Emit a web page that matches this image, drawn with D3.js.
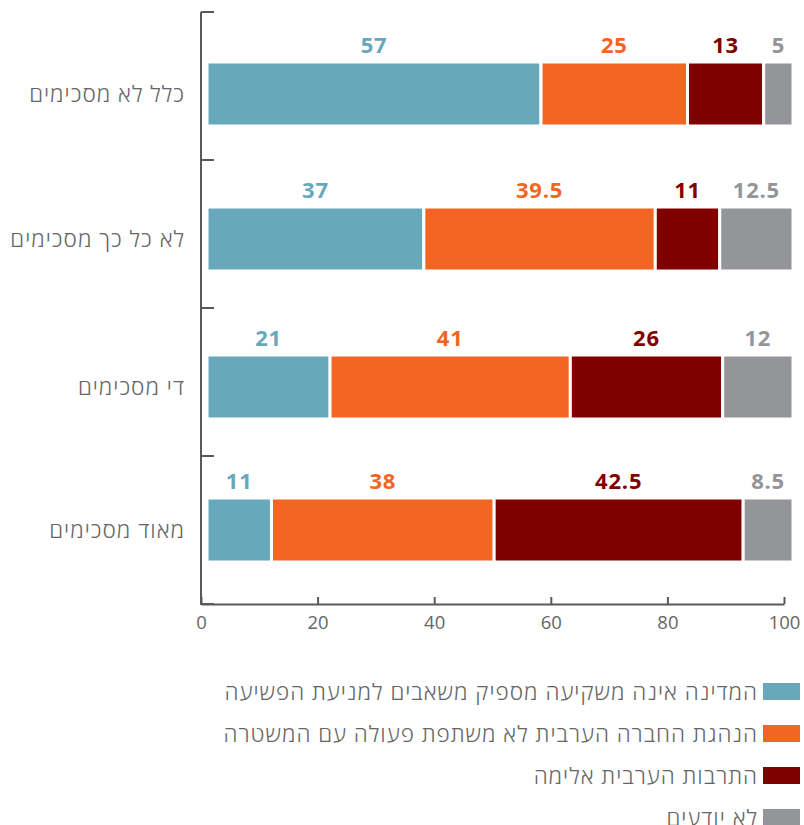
<!DOCTYPE html>
<html><head><meta charset="utf-8">
<script src="https://cdn.jsdelivr.net/npm/d3@7"></script>
<style>body{margin:0;background:#fff;font-family:"Open Sans",sans-serif}</style>
</head><body><svg id="c" width="804" height="825"></svg>
<script>
const categories = ["כלל לא מסכימים","לא כל כך מסכימים","די מסכימים","מאוד מסכימים"];
const seriesNames = ["המדינה אינה משקיעה מספיק משאבים למניעת הפשיעה","הנהגת החברה הערבית לא משתפת פעולה עם המשטרה","התרבות הערבית אלימה","לא יודעים"];
const colors = ["#67A9BA","#F26522","#800000","#939598"];
const s1 = [57,37,21,11];
const s2 = [25,39.5,41,38];
const s3 = [13,11,26,42.5];
const s4 = [5,12.5,12,8.5];
const xTicks = [0,20,40,60,80,100];

const series = [s1,s2,s3,s4];
const hebFont = "Open Sans";
const hebSize = 22.5;
const hebLS = 1;
const svg = d3.select("#c");
const x = d3.scaleLinear().domain([0,100]).range([201,784]);
const xb = d3.scaleLinear().domain([0,100]).range([207,793]);
const y = d3.scaleBand().domain(categories).range([12,604]);

// axes
svg.append("g").attr("transform","translate(0,604)")
  .call(d3.axisBottom(x).tickValues(xTicks).tickSizeOuter(0).tickSizeInner(-7).tickPadding(12))
  .call(g=>{g.select(".domain").attr("stroke","#595959").attr("stroke-width",2);
    g.selectAll(".tick line").attr("stroke","#595959").attr("stroke-width",2);
    g.selectAll("text").attr("fill","#666").attr("font-size",18.5).attr("font-family","Open Sans");});

const yTickVals = [12, ...categories.map(c=>y(c)+y.bandwidth())];
svg.append("line").attr("x1",201).attr("x2",201).attr("y1",12).attr("y2",605).attr("stroke","#595959").attr("stroke-width",2);
svg.selectAll(".yt").data(yTickVals).join("line")
  .attr("x1",201).attr("x2",214).attr("y1",d=>d).attr("y2",d=>d).attr("stroke","#595959").attr("stroke-width",2);

const off = [8,5,5,0];
svg.selectAll(".cat").data(categories).join("text")
  .attr("x",185).attr("y",(d,i)=>y(d)+y.bandwidth()/2+off[i]+8)
  .attr("text-anchor","end").attr("fill","#666").attr("font-size",hebSize).attr("font-weight",300)
  .attr("letter-spacing",hebLS).attr("font-family",hebFont)
  .text(d=>d);

const barH = 64;
categories.forEach((c,i)=>{
  let cum = 0;
  const cy = y(c)+y.bandwidth()/2 + off[i];
  series.forEach((s,j)=>{
    const v = s[i];
    svg.append("rect").attr("x",xb(cum)).attr("y",cy-barH/2).attr("width",xb(cum+v)-xb(cum)).attr("height",barH)
      .attr("fill",colors[j]).attr("stroke","#fff").attr("stroke-width",3);
    svg.append("text").attr("x",(xb(cum)+xb(cum+v))/2).attr("y",cy-barH/2-9)
      .attr("text-anchor","middle").attr("fill",colors[j]).attr("font-size",22).attr("font-weight","bold")
      .attr("letter-spacing",0.8).attr("font-family","Open Sans").text(v);
    cum += v;
  });
});

// legend
seriesNames.forEach((n,j)=>{
  const ly = 691.5 + j*42;
  svg.append("rect").attr("x",763).attr("y",ly-8.5).attr("width",37).attr("height",17).attr("fill",colors[j]);
  svg.append("text").attr("x",758).attr("y",ly+8).attr("text-anchor","end").attr("fill","#666")
    .attr("font-size",hebSize).attr("font-weight",300).attr("letter-spacing",hebLS)
    .attr("font-family",hebFont).text(n);
});
</script></body></html>
